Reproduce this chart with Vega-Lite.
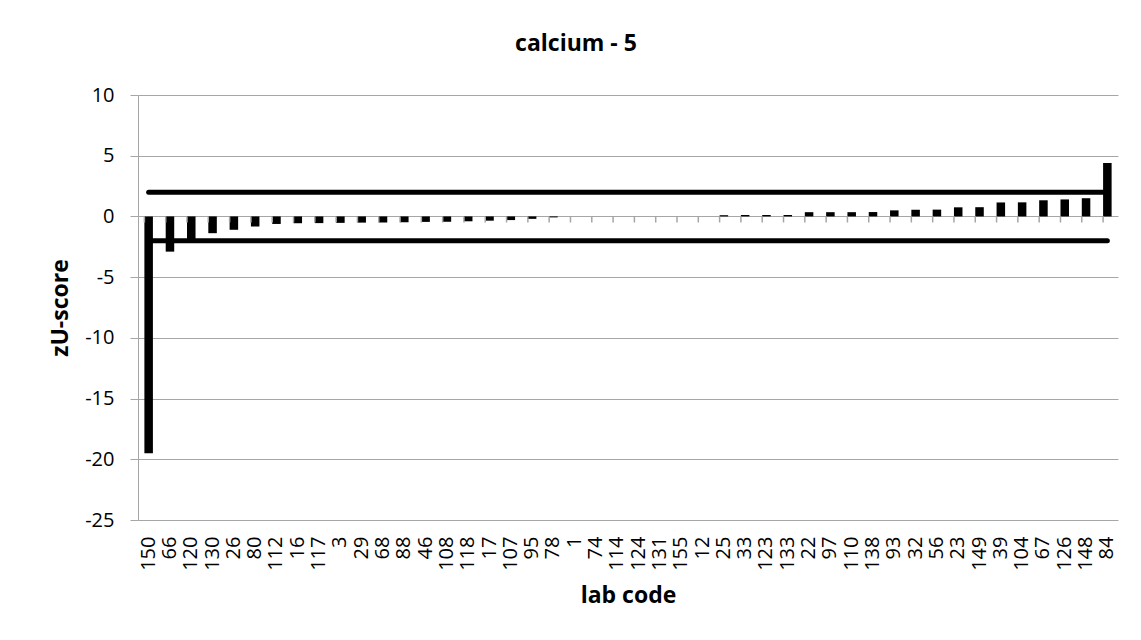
{
  "$schema": "https://vega.github.io/schema/vega-lite/v6.json",
  "autosize": "none",
  "width": 980,
  "height": 425,
  "padding": {"left": 138, "top": 95, "right": 23, "bottom": 120},
  "background": "white",
  "config": {
    "view": {"stroke": null},
    "font": "Open Sans"
  },
  "title": {
    "text": "calcium - 5",
    "font": "Open Sans",
    "fontSize": 23,
    "fontWeight": "bold",
    "color": "black",
    "anchor": "middle",
    "dx": -52,
    "offset": 29
  },
  "data": {
    "values": [
      {"lab": "150", "z": -19.5, "upper": 2, "lower": -2},
      {"lab": "66", "z": -2.9, "upper": 2, "lower": -2},
      {"lab": "120", "z": -1.9, "upper": 2, "lower": -2},
      {"lab": "130", "z": -1.38, "upper": 2, "lower": -2},
      {"lab": "26", "z": -1.1, "upper": 2, "lower": -2},
      {"lab": "80", "z": -0.83, "upper": 2, "lower": -2},
      {"lab": "112", "z": -0.62, "upper": 2, "lower": -2},
      {"lab": "16", "z": -0.56, "upper": 2, "lower": -2},
      {"lab": "117", "z": -0.55, "upper": 2, "lower": -2},
      {"lab": "3", "z": -0.53, "upper": 2, "lower": -2},
      {"lab": "29", "z": -0.51, "upper": 2, "lower": -2},
      {"lab": "68", "z": -0.5, "upper": 2, "lower": -2},
      {"lab": "88", "z": -0.48, "upper": 2, "lower": -2},
      {"lab": "46", "z": -0.45, "upper": 2, "lower": -2},
      {"lab": "108", "z": -0.44, "upper": 2, "lower": -2},
      {"lab": "118", "z": -0.4, "upper": 2, "lower": -2},
      {"lab": "17", "z": -0.35, "upper": 2, "lower": -2},
      {"lab": "107", "z": -0.3, "upper": 2, "lower": -2},
      {"lab": "95", "z": -0.2, "upper": 2, "lower": -2},
      {"lab": "78", "z": -0.08, "upper": 2, "lower": -2},
      {"lab": "1", "z": 0, "upper": 2, "lower": -2},
      {"lab": "74", "z": 0, "upper": 2, "lower": -2},
      {"lab": "114", "z": 0, "upper": 2, "lower": -2},
      {"lab": "124", "z": 0, "upper": 2, "lower": -2},
      {"lab": "131", "z": 0, "upper": 2, "lower": -2},
      {"lab": "155", "z": 0, "upper": 2, "lower": -2},
      {"lab": "12", "z": 0, "upper": 2, "lower": -2},
      {"lab": "25", "z": 0.1, "upper": 2, "lower": -2},
      {"lab": "33", "z": 0.12, "upper": 2, "lower": -2},
      {"lab": "123", "z": 0.12, "upper": 2, "lower": -2},
      {"lab": "133", "z": 0.12, "upper": 2, "lower": -2},
      {"lab": "22", "z": 0.35, "upper": 2, "lower": -2},
      {"lab": "97", "z": 0.35, "upper": 2, "lower": -2},
      {"lab": "110", "z": 0.35, "upper": 2, "lower": -2},
      {"lab": "138", "z": 0.36, "upper": 2, "lower": -2},
      {"lab": "93", "z": 0.5, "upper": 2, "lower": -2},
      {"lab": "32", "z": 0.55, "upper": 2, "lower": -2},
      {"lab": "56", "z": 0.56, "upper": 2, "lower": -2},
      {"lab": "23", "z": 0.75, "upper": 2, "lower": -2},
      {"lab": "149", "z": 0.76, "upper": 2, "lower": -2},
      {"lab": "39", "z": 1.15, "upper": 2, "lower": -2},
      {"lab": "104", "z": 1.16, "upper": 2, "lower": -2},
      {"lab": "67", "z": 1.33, "upper": 2, "lower": -2},
      {"lab": "126", "z": 1.4, "upper": 2, "lower": -2},
      {"lab": "148", "z": 1.5, "upper": 2, "lower": -2},
      {"lab": "84", "z": 4.4, "upper": 2, "lower": -2}
    ]
  },
  "layer": [
    {
      "mark": {"type": "line", "color": "black", "strokeWidth": 5, "strokeCap": "round"},
      "encoding": {
        "x": {
          "field": "lab", "type": "nominal", "sort": null,
          "scale": {"paddingInner": 0.6, "paddingOuter": 0.3},
          "axis": {
            "orient": "bottom",
            "title": "lab code",
            "titleFont": "Open Sans", "titleFontSize": 23, "titleFontWeight": "bold", "titleColor": "black",
            "titlePadding": 14,
            "labelAngle": -90, "labelAlign": "right", "labelBaseline": "middle",
            "labelFont": "Open Sans", "labelFontSize": 20, "labelColor": "black",
            "labelPadding": 16, "labelOverlap": false,
            "domain": false, "ticks": false, "grid": false
          }
        },
        "y": {
          "field": "upper", "type": "quantitative", "title": "zU-score",
          "scale": {"domain": [-25, 10], "nice": false, "zero": false},
          "axis": {
            "titleFont": "Open Sans", "titleFontSize": 23, "titleFontWeight": "bold", "titleColor": "black",
            "titlePadding": 12,
            "values": [-25, -20, -15, -10, -5, 0, 5, 10],
            "labelExpr": "datum.value < 0 ? '-' + abs(datum.value) : '' + datum.value",
            "labelFont": "Open Sans", "labelFontSize": 20, "labelColor": "black",
            "labelPadding": 16,
            "grid": true, "gridColor": "#a6a6a6", "gridWidth": 1,
            "domain": true, "domainColor": "#a6a6a6",
            "ticks": true, "tickColor": "#a6a6a6", "tickSize": 8
          }
        }
      }
    },
    {
      "mark": {"type": "bar", "color": "black"},
      "encoding": {
        "x": {"field": "lab", "type": "nominal", "sort": null},
        "y": {"field": "z", "type": "quantitative", "title": "zU-score"}
      }
    },
    {
      "mark": {"type": "line", "color": "black", "strokeWidth": 5, "strokeCap": "round"},
      "encoding": {
        "x": {"field": "lab", "type": "nominal", "sort": null},
        "y": {"field": "lower", "type": "quantitative", "title": "zU-score"}
      }
    },
    {
      "mark": {"type": "rule", "color": "#a6a6a6", "strokeWidth": 1.5},
      "encoding": {
        "x": {"field": "lab", "type": "nominal", "sort": null, "bandPosition": 0},
        "y": {"datum": 0},
        "y2": {"datum": -0.5}
      }
    }
  ]
}
